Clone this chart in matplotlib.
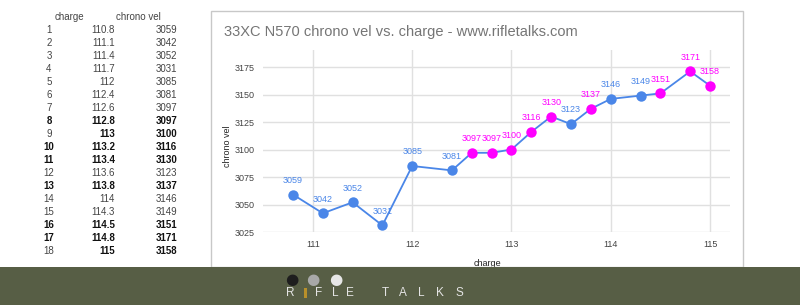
import matplotlib
matplotlib.use("Agg")
import matplotlib.pyplot as plt
from matplotlib.patches import Rectangle

plt.rcParams['font.family'] = ['Liberation Sans', 'DejaVu Sans']

# ---- data ----
shot_no = list(range(1, 19))
charge = [110.8, 111.1, 111.4, 111.7, 112, 112.4, 112.6, 112.8, 113, 113.2,
          113.4, 113.6, 113.8, 114, 114.3, 114.5, 114.8, 115]
charge_text = ["110.8", "111.1", "111.4", "111.7", "112", "112.4", "112.6", "112.8", "113",
               "113.2", "113.4", "113.6", "113.8", "114", "114.3", "114.5", "114.8", "115"]
velocity = [3059, 3042, 3052, 3031, 3085, 3081, 3097, 3097, 3100, 3116,
            3130, 3123, 3137, 3146, 3149, 3151, 3171, 3158]
highlight = [0, 0, 0, 0, 0, 0, 1, 1, 1, 1, 1, 0, 1, 0, 0, 1, 1, 1]
bold_num = [0, 0, 0, 0, 0, 0, 0, 1, 0, 1, 1, 0, 1, 0, 0, 1, 1, 0]
bold_vals = [0, 0, 0, 0, 0, 0, 0, 1, 1, 1, 1, 0, 1, 0, 0, 1, 1, 1]
x_ticks = [111, 112, 113, 114, 115]
y_ticks = [3025, 3050, 3075, 3100, 3125, 3150, 3175]

W, H = 800, 305
fig = plt.figure(figsize=(W / 100, H / 100), dpi=100)
fig.patch.set_facecolor('white')

def px(x, y):
    return x / W, 1 - y / H

# ---- table (left) ----
tcol = '#444444'
fig.text(*px(69, 17), "charge", fontsize=7, color=tcol, ha='center', va='center')
fig.text(*px(138, 17), "chrono vel", fontsize=7, color=tcol, ha='center', va='center')
for i, n in enumerate(shot_no):
    y = 30 + i * 13.0
    bn = bold_num[i]
    bv = bold_vals[i]
    fig.text(*px(49, y), str(n), fontsize=7, ha='center', va='center',
             color='#111111' if bn else tcol, fontweight='bold' if bn else 'normal')
    fig.text(*px(115, y), charge_text[i], fontsize=7, ha='right', va='center',
             color='#111111' if bv else tcol, fontweight='bold' if bv else 'normal')
    fig.text(*px(177, y), str(velocity[i]), fontsize=7, ha='right', va='center',
             color='#111111' if bv else tcol, fontweight='bold' if bv else 'normal')

# ---- chart box ----
box = Rectangle(px(211, 267), (743 - 211) / W, (267 - 11) / H, transform=fig.transFigure,
                fill=False, edgecolor='#c8c8c8', linewidth=1.0, zorder=0)
fig.patches.append(box)

fig.text(*px(224, 32), "33XC N570 chrono vel vs. charge - www.rifletalks.com",
         fontsize=10.5, color='#757575', ha='left', va='center')

# plot area pixel box
L, R, T, B = 263, 730, 50, 232
ax = fig.add_axes([L / W, 1 - B / H, (R - L) / W, (B - T) / H])
x0 = 111 - (313 - L) / 99.5
x1 = 115 + (R - 710) / 99.5
ax.set_xlim(x0, x1)
ppy = 27.5 / 25
ax.set_ylim(3025, 3175 + (67 - T) / ppy)

blue = '#4a86e8'
mag = '#ff00ff'
ax.plot(charge, velocity, color=blue, linewidth=1.3, zorder=3)
for c, v, h in zip(charge, velocity, highlight):
    col = mag if h else blue
    ax.plot([c], [v], 'o', color=col, markersize=7.5, zorder=4, markeredgewidth=0)
    ax.annotate(str(v), (c, v), xytext=(0, 7), textcoords='offset points',
                ha='center', va='bottom', fontsize=6.5, color=col, zorder=5)

ax.set_xticks(x_ticks)
ax.set_yticks(y_ticks)
ax.set_xticklabels([str(t) for t in x_ticks])
ax.set_yticklabels([str(t) for t in y_ticks])
ax.grid(True, color='#e0e0e0', linewidth=1.0)
ax.set_axisbelow(True)
for s in ax.spines.values():
    s.set_visible(False)
ax.tick_params(length=0, labelsize=6.5, colors='#444444', pad=6)
ax.set_xlabel("charge", fontsize=6.5, color='#222222', va='center')
ax.set_ylabel("chrono vel", fontsize=6.5, color='#222222', va='center')
ax.xaxis.set_label_coords((487 - L) / (R - L), -(263 - B) / (B - T))
ax.yaxis.set_label_coords(-(L - 228) / (R - L), (B - 146) / (B - T))
ax.patch.set_alpha(0)

# ---- footer band ----
foot = Rectangle((0, 0), 1, (305 - 267) / H, transform=fig.transFigure,
                 facecolor='#575e45', edgecolor='none', zorder=10)
fig.patches.append(foot)
for cx, cc in [(292, '#1e1e1e'), (313, '#a8a8a8'), (336, '#e6e6e6')]:
    fig.text(*px(cx, 280), "\u25cf", fontsize=11, color=cc, ha='center', va='center', zorder=11,
             family='DejaVu Sans')
letter_col = '#e4e4e4'
fig.text(*px(290, 293), "R", fontsize=8.5, color=letter_col, ha='center', va='center',
         zorder=11)
bullet = Rectangle(px(304, 298), 2.5 / W, 10 / H, transform=fig.transFigure,
                   facecolor='#b8902a', edgecolor='none', zorder=11)
fig.patches.append(bullet)
for ch, cx in zip("FLE", [319, 335, 350]):
    fig.text(*px(cx, 293), ch, fontsize=8.5, color=letter_col, ha='center', va='center',
             zorder=11)
for ch, cx in zip("TALKS", [385, 403, 421, 440, 459]):
    fig.text(*px(cx, 293), ch, fontsize=8.5, color=letter_col, ha='center', va='center',
             zorder=11)

fig.savefig("out.png", dpi=100, facecolor='white')
